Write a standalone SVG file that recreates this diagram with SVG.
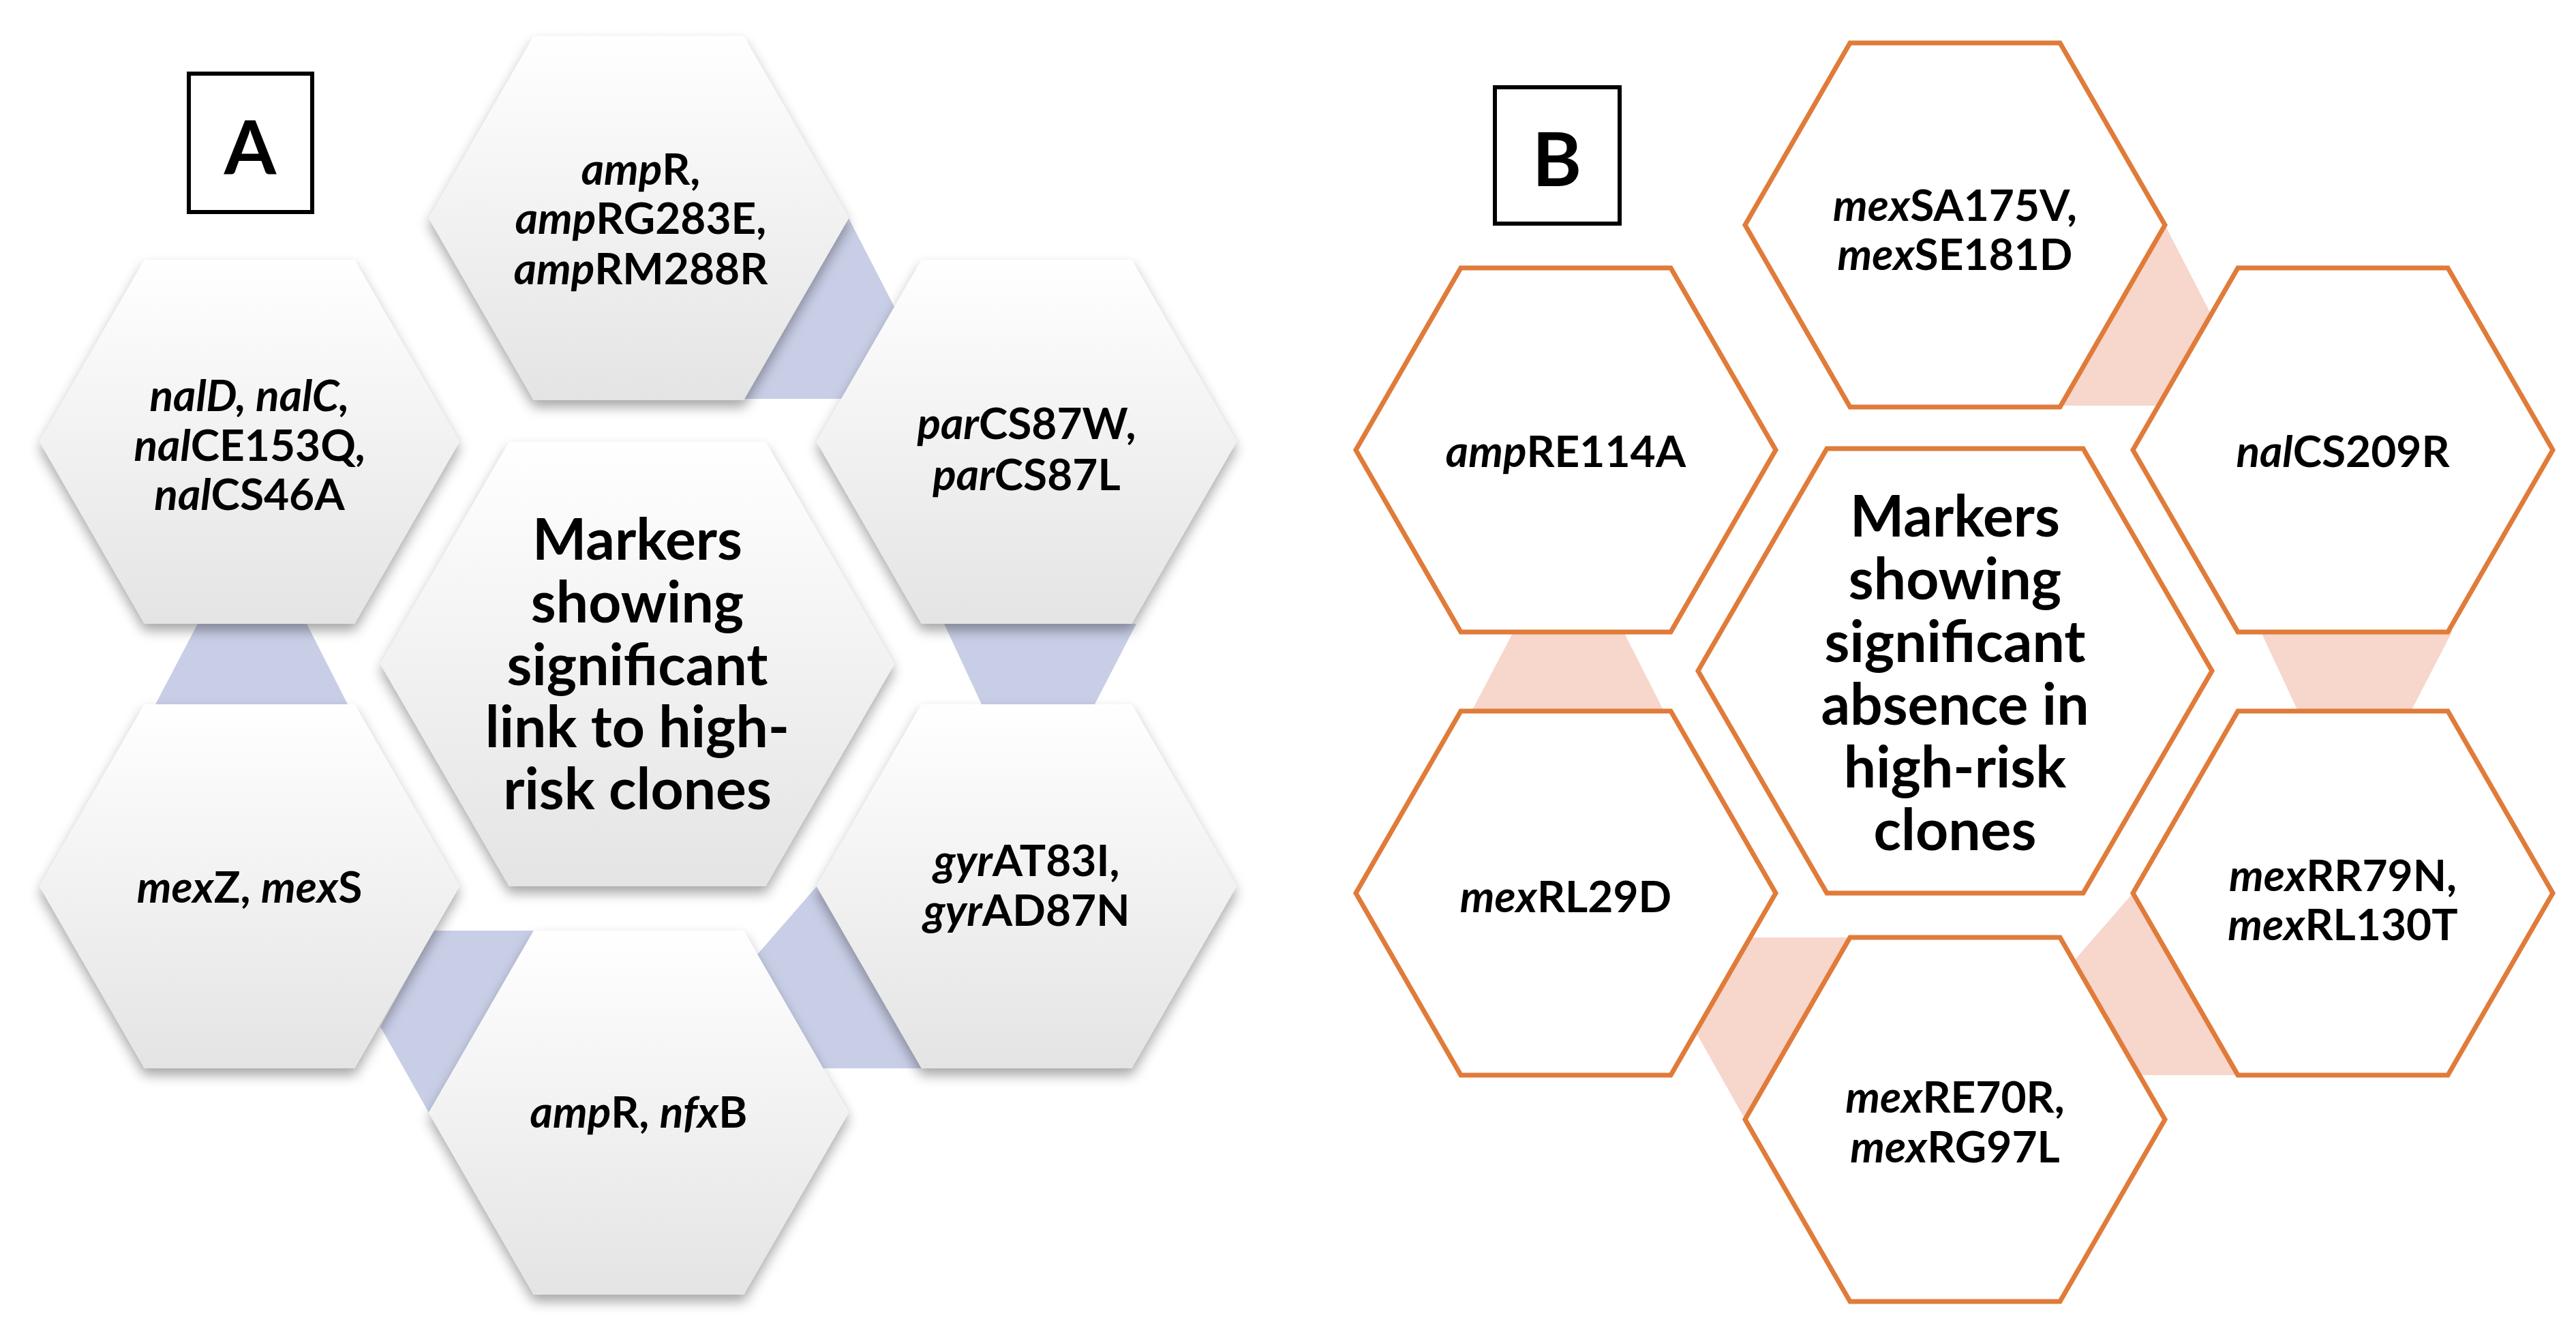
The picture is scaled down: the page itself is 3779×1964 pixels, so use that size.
<svg xmlns="http://www.w3.org/2000/svg" width="3779" height="1964" viewBox="0 0 3779 1964">
<style>
.t{font-family:Lato,"Liberation Sans",sans-serif;font-weight:bold;font-size:64px;fill:#000;text-anchor:middle;dominant-baseline:central}
.c{font-size:84px}
.i{font-style:italic}
.ha{fill:url(#g);filter:url(#sh)}
.hb{fill:#fff;stroke:#E07B39;stroke-width:7}
.ba{fill:#C8CEE6}
.bb{fill:#F7D6CC}
.box{fill:#fff;stroke:#000;stroke-width:6}
.L{font-size:110px}
</style>
<defs>
<linearGradient id="g" x1="0" y1="0" x2="0" y2="1"><stop offset="0" stop-color="#fff"/><stop offset="1" stop-color="#E4E4E4"/></linearGradient>
<filter id="sh" x="-20%" y="-20%" width="140%" height="140%"><feDropShadow dx="0" dy="10" stdDeviation="9" flood-color="#000" flood-opacity="0.35"/></filter>
<polygon id="h" points="-308,0 -154,-267 154,-267 308,0 154,267 -154,267"/>
<polygon id="hc" points="-377,0 -188,-326 188,-326 377,0 188,326 -188,326"/>
</defs>
<g id="connectors">
<g class="ba">
<polygon points="1245,320 1312,450 1234,585 1091,585"/>
<polygon points="290,915 450,915 510,1033 228,1033"/>
<polygon points="1385,915 1667,915 1606,1033 1440,1033"/>
<polygon points="1198,1300 1111,1400 1207,1567 1352,1567"/>
<polygon points="629,1632 558,1506 636,1365 783,1365"/>
</g>
<g class="bb" transform="translate(1931,10)">
<polygon points="1245,320 1312,450 1234,585 1091,585"/>
<polygon points="290,915 450,915 510,1033 228,1033"/>
<polygon points="1385,915 1667,915 1606,1033 1440,1033"/>
<polygon points="1198,1300 1111,1400 1207,1567 1352,1567"/>
<polygon points="629,1632 558,1506 636,1365 783,1365"/>
</g>
</g>
<g id="labelA"><rect class="box" x="277" y="108" width="181" height="203"/><text class="t L" x="367" y="212">A</text></g>
<g id="a-top"><use href="#h" class="ha" x="937" y="320"/><text class="t" x="940"><tspan x="940" y="246"><tspan class="i">amp</tspan>R,</tspan><tspan x="940" y="318"><tspan class="i">amp</tspan>RG283E,</tspan><tspan x="940" y="392"><tspan class="i">amp</tspan>RM288R</tspan></text></g>
<g id="a-ul"><use href="#h" class="ha" x="366" y="648"/><text class="t"><tspan x="366" y="578" class="i">nalD, nalC,</tspan><tspan x="366" y="651"><tspan class="i">nal</tspan>CE153Q,</tspan><tspan x="366" y="723"><tspan class="i">nal</tspan>CS46A</tspan></text></g>
<g id="a-ur"><use href="#h" class="ha" x="1506" y="648"/><text class="t"><tspan x="1506" y="619"><tspan class="i">par</tspan>CS87W,</tspan><tspan x="1506" y="694"><tspan class="i">par</tspan>CS87L</tspan></text></g>
<g id="a-ll"><use href="#h" class="ha" x="366" y="1300"/><text class="t" x="366" y="1299"><tspan class="i">mex</tspan>Z, <tspan class="i">mex</tspan>S</text></g>
<g id="a-lr"><use href="#h" class="ha" x="1506" y="1300"/><text class="t"><tspan x="1506" y="1260"><tspan class="i">gyr</tspan>AT83I,</tspan><tspan x="1506" y="1333"><tspan class="i">gyr</tspan>AD87N</tspan></text></g>
<g id="a-bot"><use href="#h" class="ha" x="937" y="1632"/><text class="t" x="937" y="1629"><tspan class="i">amp</tspan>R, <tspan class="i">nfx</tspan>B</text></g>
<g id="a-center"><use href="#hc" class="ha" x="935" y="974"/><text class="t c"><tspan x="935" y="788">Markers</tspan><tspan x="935" y="880">showing</tspan><tspan x="935" y="972">significant</tspan><tspan x="935" y="1063">link to high-</tspan><tspan x="935" y="1154">risk clones</tspan></text></g>
<g id="labelB"><rect class="box" x="2193" y="128" width="183" height="200"/><text class="t L" x="2284" y="230">B</text></g>
<g id="b-top"><use href="#h" class="hb" x="2868" y="330"/><text class="t"><tspan x="2868" y="299"><tspan class="i">mex</tspan>SA175V,</tspan><tspan x="2868" y="371"><tspan class="i">mex</tspan>SE181D</tspan></text></g>
<g id="b-ul"><use href="#h" class="hb" x="2297" y="660"/><text class="t" x="2297" y="660"><tspan class="i">amp</tspan>RE114A</text></g>
<g id="b-ur"><use href="#h" class="hb" x="3437" y="660"/><text class="t" x="3437" y="660"><tspan class="i">nal</tspan>CS209R</text></g>
<g id="b-ll"><use href="#h" class="hb" x="2297" y="1310"/><text class="t" x="2297" y="1313"><tspan class="i">mex</tspan>RL29D</text></g>
<g id="b-lr"><use href="#h" class="hb" x="3437" y="1310"/><text class="t"><tspan x="3437" y="1282"><tspan class="i">mex</tspan>RR79N,</tspan><tspan x="3437" y="1354"><tspan class="i">mex</tspan>RL130T</tspan></text></g>
<g id="b-bot"><use href="#h" class="hb" x="2868" y="1642"/><text class="t"><tspan x="2868" y="1607"><tspan class="i">mex</tspan>RE70R,</tspan><tspan x="2868" y="1680"><tspan class="i">mex</tspan>RG97L</tspan></text></g>
<g id="b-center"><use href="#hc" class="hb" x="2868" y="984"/><text class="t c"><tspan x="2868" y="754">Markers</tspan><tspan x="2868" y="846">showing</tspan><tspan x="2868" y="938">significant</tspan><tspan x="2868" y="1030">absence in</tspan><tspan x="2868" y="1122">high-risk</tspan><tspan x="2868" y="1214">clones</tspan></text></g>
</svg>
